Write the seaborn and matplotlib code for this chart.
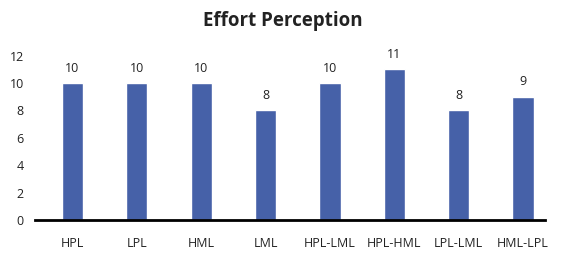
import pandas as pd
import matplotlib
matplotlib.use("Agg")
import matplotlib.pyplot as plt
import seaborn as sns

sns.set_style("white")
plt.rcParams['font.family'] = ['Open Sans', 'DejaVu Sans']

conditions = ["HPL", "LPL", "HML", "LML", "HPL-LML", "HPL-HML", "LPL-LML", "HML-LPL"]
effort = [10, 10, 10, 8, 10, 11, 8, 9]
y_ticks = [0, 2, 4, 6, 8, 10, 12]

df = pd.DataFrame({"condition": conditions, "effort": effort})

fig = plt.figure(figsize=(5.65, 2.62), dpi=100)
ax = fig.add_axes([35 / 565, 42 / 262, 510 / 565, 164.4 / 262])

sns.barplot(data=df, x="condition", y="effort", color="#4661A8",
            saturation=1, width=0.33, ax=ax)

# value labels above bars
for i, v in enumerate(effort):
    ax.annotate(str(v), (i, v), xytext=(0, 6), textcoords="offset points",
                ha="center", va="bottom", fontsize=9, color="#222222",
                annotation_clip=False)

ax.set_ylim(0, 12)
ax.set_xlim(-0.58, 7.34)
ax.set_yticks(y_ticks)
ax.set_xlabel("")
ax.set_ylabel("")
for s in ["top", "right", "left"]:
    ax.spines[s].set_visible(False)
ax.spines["bottom"].set_color("black")
ax.spines["bottom"].set_linewidth(2)
ax.tick_params(axis="both", length=0, labelsize=9, labelcolor="#222222")
ax.tick_params(axis="x", pad=12.5)
ax.tick_params(axis="y", pad=8)

fig.suptitle("Effort Perception", y=1 - 11 / 262, va="top",
             fontsize=13.5, fontweight="bold", color="#222222")

fig.savefig("out.png", dpi=100)
